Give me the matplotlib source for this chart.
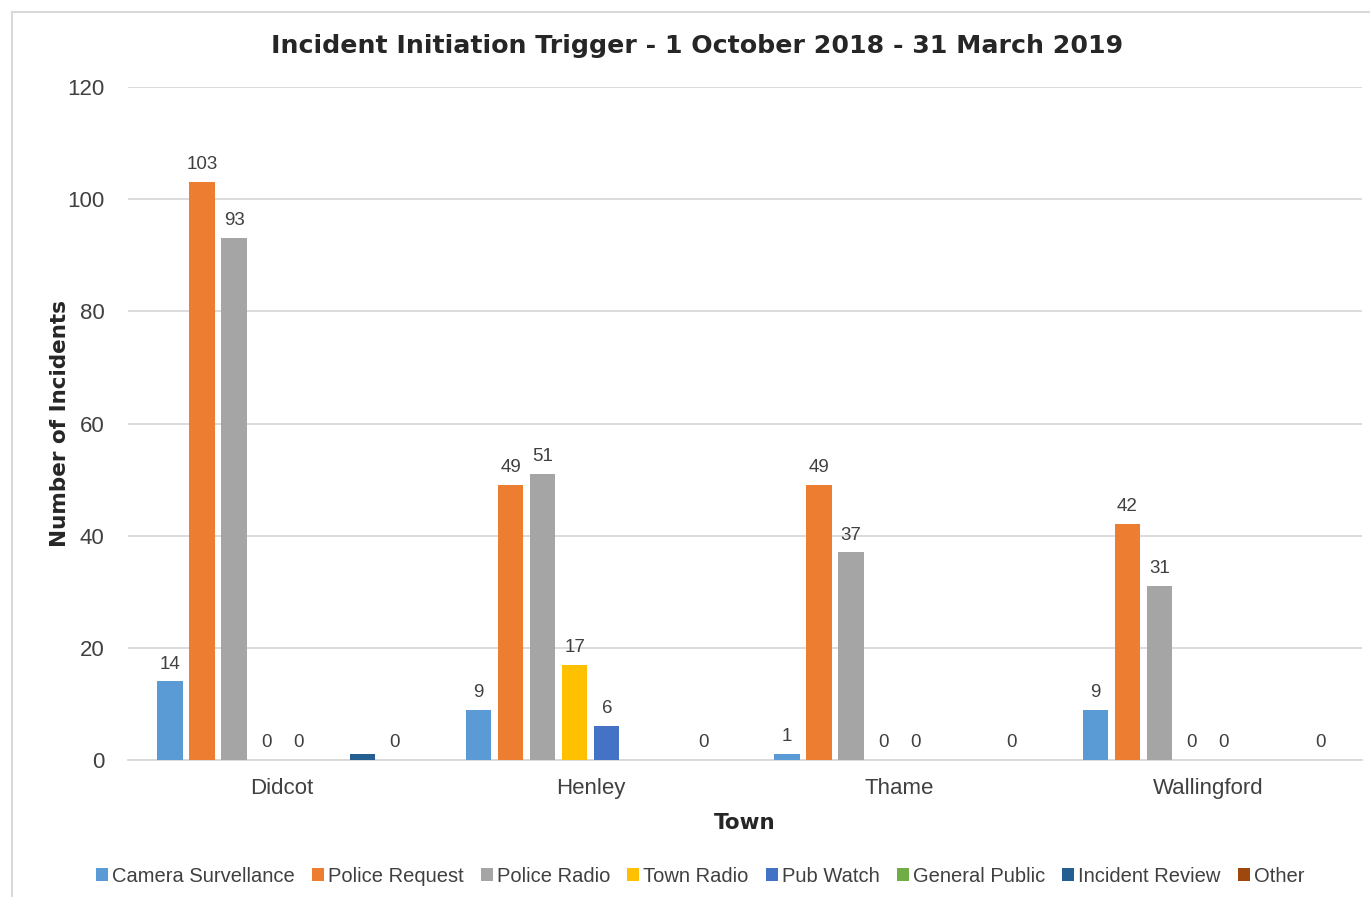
import matplotlib.pyplot as plt
import numpy as np

plt.rcParams['font.family'] = ['Liberation Sans', 'DejaVu Sans']

towns = ['Didcot', 'Henley', 'Thame', 'Wallingford']
series = ['Camera Survellance', 'Police Request', 'Police Radio', 'Town Radio',
          'Pub Watch', 'General Public', 'Incident Review', 'Other']
colors = ['#5B9BD5', '#ED7D31', '#A5A5A5', '#FFC000',
          '#4472C4', '#70AD47', '#255E91', '#9E480E']

# nan = no value shown for that town
camera = [14, 9, 1, 9]
police_request = [103, 49, 49, 42]
police_radio = [93, 51, 37, 31]
town_radio = [0, 17, 0, 0]
pub_watch = [0, 6, 0, 0]
general_public = [np.nan, np.nan, np.nan, np.nan]
incident_review = [1, np.nan, np.nan, np.nan]
other = [0, 0, 0, 0]
values = [camera, police_request, police_radio, town_radio,
          pub_watch, general_public, incident_review, other]
# which bars carry a data label
show_label = [[True] * 4, [True] * 4, [True] * 4, [True] * 4,
              [True] * 4, [False] * 4, [False] * 4, [True] * 4]

fig = plt.figure(figsize=(13.7, 8.97), dpi=100)
ax = fig.add_axes([128 / 1370, 1 - 760 / 897, (1362 - 128) / 1370, (760 - 87) / 897])

# chart frame
fig.add_artist(plt.Line2D([12 / 1370, 1], [1 - 12 / 897] * 2, color='#D9D9D9', lw=1.5))
fig.add_artist(plt.Line2D([12 / 1370] * 2, [0, 1 - 12 / 897], color='#D9D9D9', lw=1.5))

x = np.arange(len(towns))
pitch = 0.104
width = 0.082
for k, (name, vals, col) in enumerate(zip(series, values, colors)):
    pos = x + (k - 3.5) * pitch
    ax.bar(pos, np.nan_to_num(vals), width=width, color=col, label=name, zorder=3)
    for p, v, s in zip(pos, vals, show_label[k]):
        if s and not np.isnan(v):
            ax.text(p, v + 1.6, f'{int(v)}', ha='center', va='bottom',
                    fontsize=13.5, color='#404040')

ax.set_xlim(-0.5, 3.5)
ax.set_ylim(0, 120)
ax.set_yticks(range(0, 121, 20))
ax.set_xticks(x)
ax.set_xticklabels(towns)
ax.tick_params(axis='both', length=0, labelsize=16, labelcolor='#404040')
ax.tick_params(axis='y', pad=17)
ax.tick_params(axis='x', pad=13)
ax.yaxis.grid(True, color='#D9D9D9', lw=1.3, zorder=0)
for s in ['top', 'right', 'left']:
    ax.spines[s].set_visible(False)
ax.spines['bottom'].set_color('#D9D9D9')
ax.spines['bottom'].set_linewidth(1.3)

bold = dict(family='DejaVu Sans', fontweight='bold', color='#262626')
ax.set_xlabel('Town', fontsize=15.5, labelpad=10, **bold)
ax.set_ylabel('Number of Incidents', fontsize=15.5, labelpad=-2, **bold)

fig.text(697 / 1370, 1 - 46 / 897, 'Incident Initiation Trigger - 1 October 2018 - 31 March 2019',
         ha='center', va='center', fontsize=18.2, **bold)

fig.legend(loc='center', bbox_to_anchor=(700 / 1370, 1 - 876 / 897), ncol=8,
           frameon=False, fontsize=14.5, handlelength=0.6, handleheight=0.6,
           handletextpad=0.2, columnspacing=0.85, labelcolor='#404040')

plt.savefig('out.png', dpi=100)
